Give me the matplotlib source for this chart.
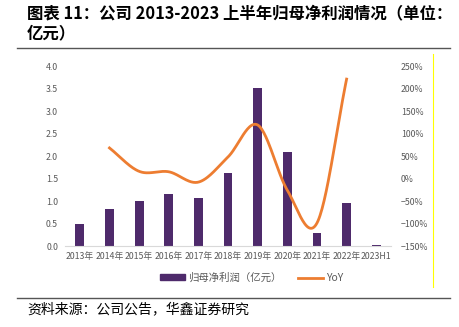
import numpy as np
import matplotlib as mpl
mpl.use('Agg')
import matplotlib.pyplot as plt
from matplotlib.lines import Line2D
from matplotlib.patches import Patch

plt.rcParams['font.family'] = ['Noto Sans CJK SC', 'DejaVu Sans']
plt.rcParams['axes.unicode_minus'] = False

years = ['2013年', '2014年', '2015年', '2016年', '2017年', '2018年',
         '2019年', '2020年', '2021年', '2022年', '2023H1']
profit = [0.49, 0.82, 1.00, 1.15, 1.06, 1.62, 3.51, 2.09, 0.29, 0.96, 0.02]
yoy = [None, 68, 16, 15, -8, 48, 119, -26, -99, 221]

bar_color = '#4E2A6B'
line_color = '#ED7D31'
grey = '#595959'


def smooth(xs, ys, n=30):
    # catmull-rom, like the excel smoothed line
    xs = np.asarray(xs, float)
    ys = np.asarray(ys, float)
    px = np.concatenate([[2 * xs[0] - xs[1]], xs, [2 * xs[-1] - xs[-2]]])
    py = np.concatenate([[2 * ys[0] - ys[1]], ys, [2 * ys[-1] - ys[-2]]])
    ox, oy = [], []
    t = np.linspace(0, 1, n)
    for i in range(1, len(px) - 2):
        for p, o in ((px, ox), (py, oy)):
            p0, p1, p2, p3 = p[i - 1], p[i], p[i + 1], p[i + 2]
            o.extend(0.5 * (2 * p1 + (-p0 + p2) * t
                            + (2 * p0 - 5 * p1 + 4 * p2 - p3) * t ** 2
                            + (-p0 + 3 * p1 - 3 * p2 + p3) * t ** 3))
    return ox, oy


fig = plt.figure(figsize=(4.59, 3.27), dpi=100)
ax = fig.add_axes([0.1416, 0.2477, 0.7104, 0.5503])
x = np.arange(len(years))
ax.bar(x, profit, width=0.3, color=bar_color)
ax.set_ylim(0, 4)
ax.set_xlim(-0.5, len(years) - 0.5)
ax.set_yticks(np.arange(0, 4.01, 0.5))
ax.set_yticklabels([f'{v:.1f}' for v in np.arange(0, 4.01, 0.5)])
ax.set_xticks(x)
ax.set_xticklabels(years)
for s in ['top', 'right', 'left']:
    ax.spines[s].set_visible(False)
ax.spines['bottom'].set_color('#D9D9D9')
ax.tick_params(axis='both', length=0, labelsize=6.3, colors=grey, pad=5)
ax.tick_params(axis='x', pad=4)

ax2 = ax.twinx()
xi = [i for i, v in enumerate(yoy) if v is not None]
yi = [v for v in yoy if v is not None]
sx, sy = smooth(xi, yi)
ax2.plot(sx, sy, color=line_color, lw=2)
ax2.set_ylim(-150, 250)
ax2.set_yticks(range(-150, 251, 50))
ax2.set_yticklabels([f'{v}%'.replace('-', '−') for v in range(-150, 251, 50)])
for s in ax2.spines.values():
    s.set_visible(False)
ax2.tick_params(axis='y', length=0, labelsize=6.3, colors=grey, pad=7)

handles = [Patch(color=bar_color), Line2D([], [], color=line_color, lw=2)]
fig.legend(handles, ['归母净利润（亿元）', 'YoY'], loc='center',
           bbox_to_anchor=(0.548, 1 - 278 / 327), ncol=2, frameon=False,
           fontsize=7.5, labelcolor=grey, handlelength=2.4, handleheight=0.5,
           columnspacing=1.6, handletextpad=0.3)

fig.text(27 / 459, 1 - 13 / 327, '图表 11：公司 2013-2023 上半年归母净利润情况（单位：',
         fontsize=11.8, fontweight='bold', va='center')
fig.text(27 / 459, 1 - 33 / 327, '亿元）', fontsize=11.8, fontweight='bold', va='center')
fig.add_artist(Line2D([17 / 459, 450 / 459], [1 - 48 / 327] * 2, color='#555555', lw=1))
fig.add_artist(Line2D([17 / 459, 450 / 459], [1 - 298 / 327] * 2, color='#555555', lw=1))
fig.add_artist(Line2D([433 / 459] * 2, [1 - 54 / 327, 1 - 287 / 327], color='#FFFF00', lw=0.8))
fig.text(27 / 459, 1 - 309 / 327, '资料来源：公司公告，华鑫证券研究', fontsize=10, va='center')

fig.savefig('out.png', dpi=100)
